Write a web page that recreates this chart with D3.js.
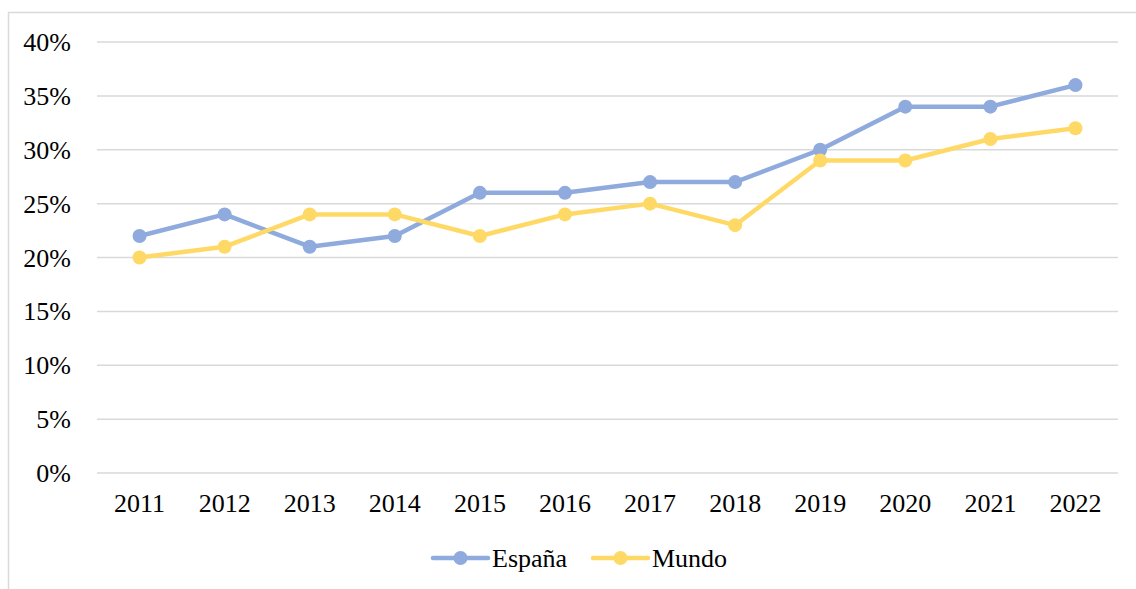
<html>
<head>
<script src="https://d3js.org/d3.v7.min.js"></script>
<style>
  body { margin: 0; background: #fff; overflow: hidden; }
  text { font-family: "Liberation Serif", "Times New Roman", serif; fill: #000; }
</style>
</head>
<body>
<svg id="chart" width="1136" height="589"></svg>
<script>
// data
const years = ["2011","2012","2013","2014","2015","2016","2017","2018","2019","2020","2021","2022"];
const espana = [0.22,0.24,0.21,0.22,0.26,0.26,0.27,0.27,0.30,0.34,0.34,0.36];
const mundo = [0.20,0.21,0.24,0.24,0.22,0.24,0.25,0.23,0.29,0.29,0.31,0.32];
const yTicks = [0,0.05,0.10,0.15,0.20,0.25,0.30,0.35,0.40];

const series = [
  { name: "España", values: espana, color: "#8faadc" },
  { name: "Mundo", values: mundo, color: "#ffd966" }
];

const svg = d3.select("#chart");
const fs = 26;

// outer chart frame
svg.append("rect")
  .attr("x", 8.5).attr("y", 12.5)
  .attr("width", 1140).attr("height", 600)
  .attr("fill", "none").attr("stroke", "#d9d9d9").attr("stroke-width", 1.5);

const plotL = 97, plotR = 1118, plotT = 42, plotB = 473;

const x = d3.scaleBand().domain(years).range([plotL, plotR]);
const y = d3.scaleLinear().domain([0, 0.4]).range([plotB, plotT]);

// gridlines
svg.append("g").selectAll("line").data(yTicks).join("line")
  .attr("x1", plotL).attr("x2", plotR)
  .attr("y1", d => y(d)).attr("y2", d => y(d))
  .attr("stroke", "#d9d9d9").attr("stroke-width", 1.5);

// y labels
svg.append("g").selectAll("text").data(yTicks).join("text")
  .attr("x", 71).attr("y", d => y(d))
  .attr("dy", "0.35em")
  .attr("text-anchor", "end")
  .attr("font-size", fs)
  .text(d => d3.format(".0%")(d));

// x labels
svg.append("g").selectAll("text").data(years).join("text")
  .attr("x", d => x(d) + x.bandwidth() / 2).attr("y", 503)
  .attr("dy", "0.35em")
  .attr("text-anchor", "middle")
  .attr("font-size", fs)
  .text(d => d);

const line = d3.line()
  .x((d, i) => x(years[i]) + x.bandwidth() / 2)
  .y(d => y(d));

series.forEach(s => {
  const g = svg.append("g");
  g.append("path").datum(s.values)
    .attr("d", line)
    .attr("fill", "none")
    .attr("stroke", s.color)
    .attr("stroke-width", 4.5)
    .attr("stroke-linejoin", "round")
    .attr("stroke-linecap", "round");
  g.selectAll("circle").data(s.values).join("circle")
    .attr("cx", (d, i) => x(years[i]) + x.bandwidth() / 2)
    .attr("cy", d => y(d))
    .attr("r", 7)
    .attr("fill", s.color);
});

// legend
const legendX = [433, 593];
const legend = svg.append("g").selectAll("g").data(series).join("g")
  .attr("transform", (d, i) => `translate(${legendX[i]},558)`);
legend.append("line")
  .attr("x1", 0).attr("x2", 55).attr("y1", 0).attr("y2", 0)
  .attr("stroke", d => d.color).attr("stroke-width", 4.5)
  .attr("stroke-linecap", "round");
legend.append("circle")
  .attr("cx", 27.5).attr("cy", 0).attr("r", 7)
  .attr("fill", d => d.color);
legend.append("text")
  .attr("x", 59).attr("y", 0).attr("dy", "0.35em")
  .attr("font-size", fs)
  .text(d => d.name);
</script>
</body>
</html>
